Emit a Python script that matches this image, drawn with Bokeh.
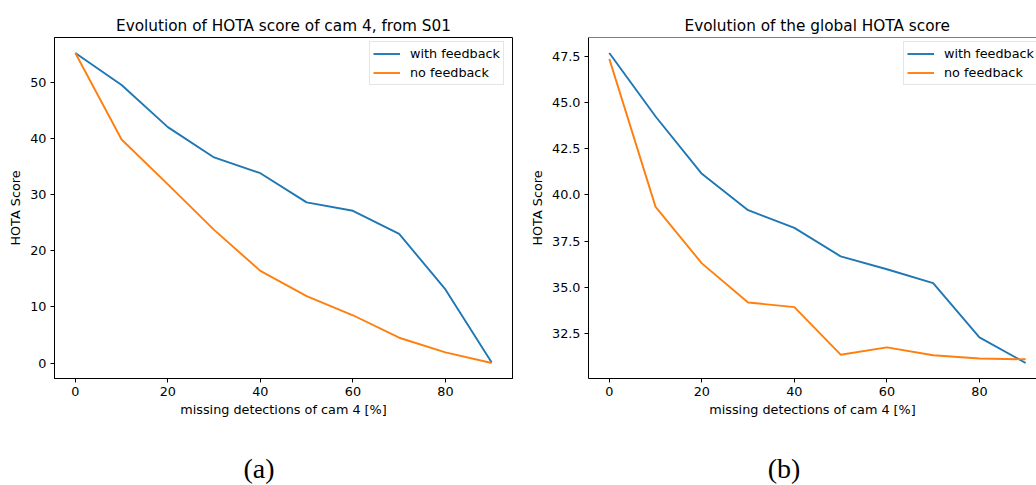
from bokeh.plotting import figure
from bokeh.layouts import row, column
from bokeh.models import FixedTicker, PrintfTickFormatter, Range1d, Span, Div, Spacer
from bokeh.embed import file_html
from bokeh.resources import INLINE

# Share of missing detections for camera 4 (%)
missing_pct = [0, 10, 20, 30, 40, 50, 60, 70, 80, 90]

# HOTA of camera 4 on sequence S01
cam4_with_feedback = [55.2, 49.5, 42.0, 36.6, 33.8, 28.6, 27.1, 23.0, 13.1, 0.1]
cam4_no_feedback = [55.2, 39.8, 31.8, 23.7, 16.4, 11.9, 8.5, 4.5, 1.9, 0.0]

# Global HOTA over all cameras
global_with_feedback = [47.69, 44.25, 41.14, 39.17, 38.21, 36.67, 35.97, 35.22, 32.28, 30.89]
global_no_feedback = [47.37, 39.35, 36.29, 34.17, 33.92, 31.34, 31.74, 31.31, 31.13, 31.09]

x_ticks = [0, 20, 40, 60, 80]
cam4_ticks = [0, 10, 20, 30, 40, 50]
global_ticks = [32.5, 35.0, 37.5, 40.0, 42.5, 45.0, 47.5]
caption_labels = ["(a)", "(b)"]

BLUE = "#1f77b4"
ORANGE = "#ff7f0e"
FONT = "DejaVu Sans"
SMALL = "12.8px"
FIG_H = 450


def padded(values, frac=0.05):
    lo, hi = min(values), max(values)
    pad = (hi - lo) * frac
    return lo - pad, hi + pad


def style(p, yticks, yfmt):
    p.xaxis.ticker = FixedTicker(ticks=x_ticks)
    p.yaxis.ticker = FixedTicker(ticks=yticks)
    p.yaxis.formatter = PrintfTickFormatter(format=yfmt)
    for ax in (p.xaxis, p.yaxis):
        ax.axis_line_color = "black"
        ax.axis_line_width = 1
        ax.major_tick_line_color = "black"
        ax.major_tick_out = 4
        ax.major_tick_in = 0
        ax.minor_tick_line_color = None
        ax.major_label_text_font = FONT
        ax.major_label_text_font_size = SMALL
        ax.major_label_text_color = "black"
        ax.major_label_standoff = 4
        ax.axis_label_text_font = FONT
        ax.axis_label_text_font_size = SMALL
        ax.axis_label_text_font_style = "normal"
        ax.axis_label_text_color = "black"
        ax.axis_label_standoff = 4
    p.xaxis.axis_label_standoff = 3
    p.xaxis.axis_label = "missing detections of cam 4 [%]"
    p.yaxis.axis_label = "HOTA Score"
    p.xgrid.grid_line_color = None
    p.ygrid.grid_line_color = None
    p.title.text_font = FONT
    p.title.text_font_size = "15.3px"
    p.title.text_font_style = "normal"
    p.title.text_color = "black"
    p.title.standoff = 6


def add_legend(p):
    leg = p.legend[0]
    leg.location = (315, 293)
    leg.label_text_font = FONT
    leg.label_text_font_size = SMALL
    leg.label_text_color = "black"
    leg.glyph_width = 27
    leg.glyph_height = 17
    leg.label_height = 17
    leg.label_standoff = 10
    leg.spacing = 2
    leg.padding = 3
    leg.border_line_color = "#cccccc"
    leg.border_line_width = 1
    leg.background_fill_alpha = 0.8


x_lo, x_hi = padded(missing_pct)

# (a) camera 4 on S01
y_lo, y_hi = padded(cam4_with_feedback + cam4_no_feedback)
p1 = figure(width=525, height=FIG_H, output_backend="svg", toolbar_location=None,
            x_range=Range1d(x_lo, x_hi), y_range=Range1d(y_lo, y_hi),
            title="Evolution of HOTA score of cam 4, from S01",
            min_border_left=54, min_border_right=13, min_border_top=37,
            min_border_bottom=FIG_H - 378)
p1.title.align = "center"
p1.outline_line_color = "black"
p1.outline_line_width = 1
p1.outline_line_alpha = 1
style(p1, cam4_ticks, "%d")
p1.line(missing_pct, cam4_with_feedback, line_color=BLUE, line_width=1.9,
        legend_label="with feedback")
p1.line(missing_pct, cam4_no_feedback, line_color=ORANGE, line_width=1.9,
        legend_label="no feedback")
add_legend(p1)

# (b) global score; the panel runs off the right edge of the page
g_lo, g_hi = padded(global_with_feedback + global_no_feedback)
frame_w2 = 511 - 63
frame_w1 = 525 - 54 - 13
x_hi2 = x_lo + (x_hi - x_lo) * frame_w2 / frame_w1
p2 = figure(width=511, height=FIG_H, output_backend="svg", toolbar_location=None,
            x_range=Range1d(x_lo, x_hi2), y_range=Range1d(g_lo, g_hi),
            title="Evolution of the global HOTA score",
            min_border_left=63, min_border_right=0, min_border_top=37,
            min_border_bottom=FIG_H - 378)
p2.title.align = "left"
p2.title.offset = 96
p2.outline_line_color = None
style(p2, global_ticks, "%.1f")
p2.add_layout(Span(location=g_hi, dimension="width", line_color="black", line_width=1))
p2.line(missing_pct, global_with_feedback, line_color=BLUE, line_width=1.9,
        legend_label="with feedback")
p2.line(missing_pct, global_no_feedback, line_color=ORANGE, line_width=1.9,
        legend_label="no feedback")
add_legend(p2)

# Sub-figure captions under each panel
caption_style = {
    "font-family": "Liberation Serif",
    "font-size": "28px",
    "line-height": "37px",
    "color": "black",
    "text-align": "center",
}
cap_a = Div(text=caption_labels[0], width=518, height=35, margin=0, styles=caption_style)
cap_b = Div(text=caption_labels[1], width=504, height=35, margin=0, styles=caption_style)

layout = column(row(p1, p2), row(cap_a, Spacer(width=14, height=35, margin=0), cap_b))
open("out.html", "w").write(file_html(layout, INLINE))
